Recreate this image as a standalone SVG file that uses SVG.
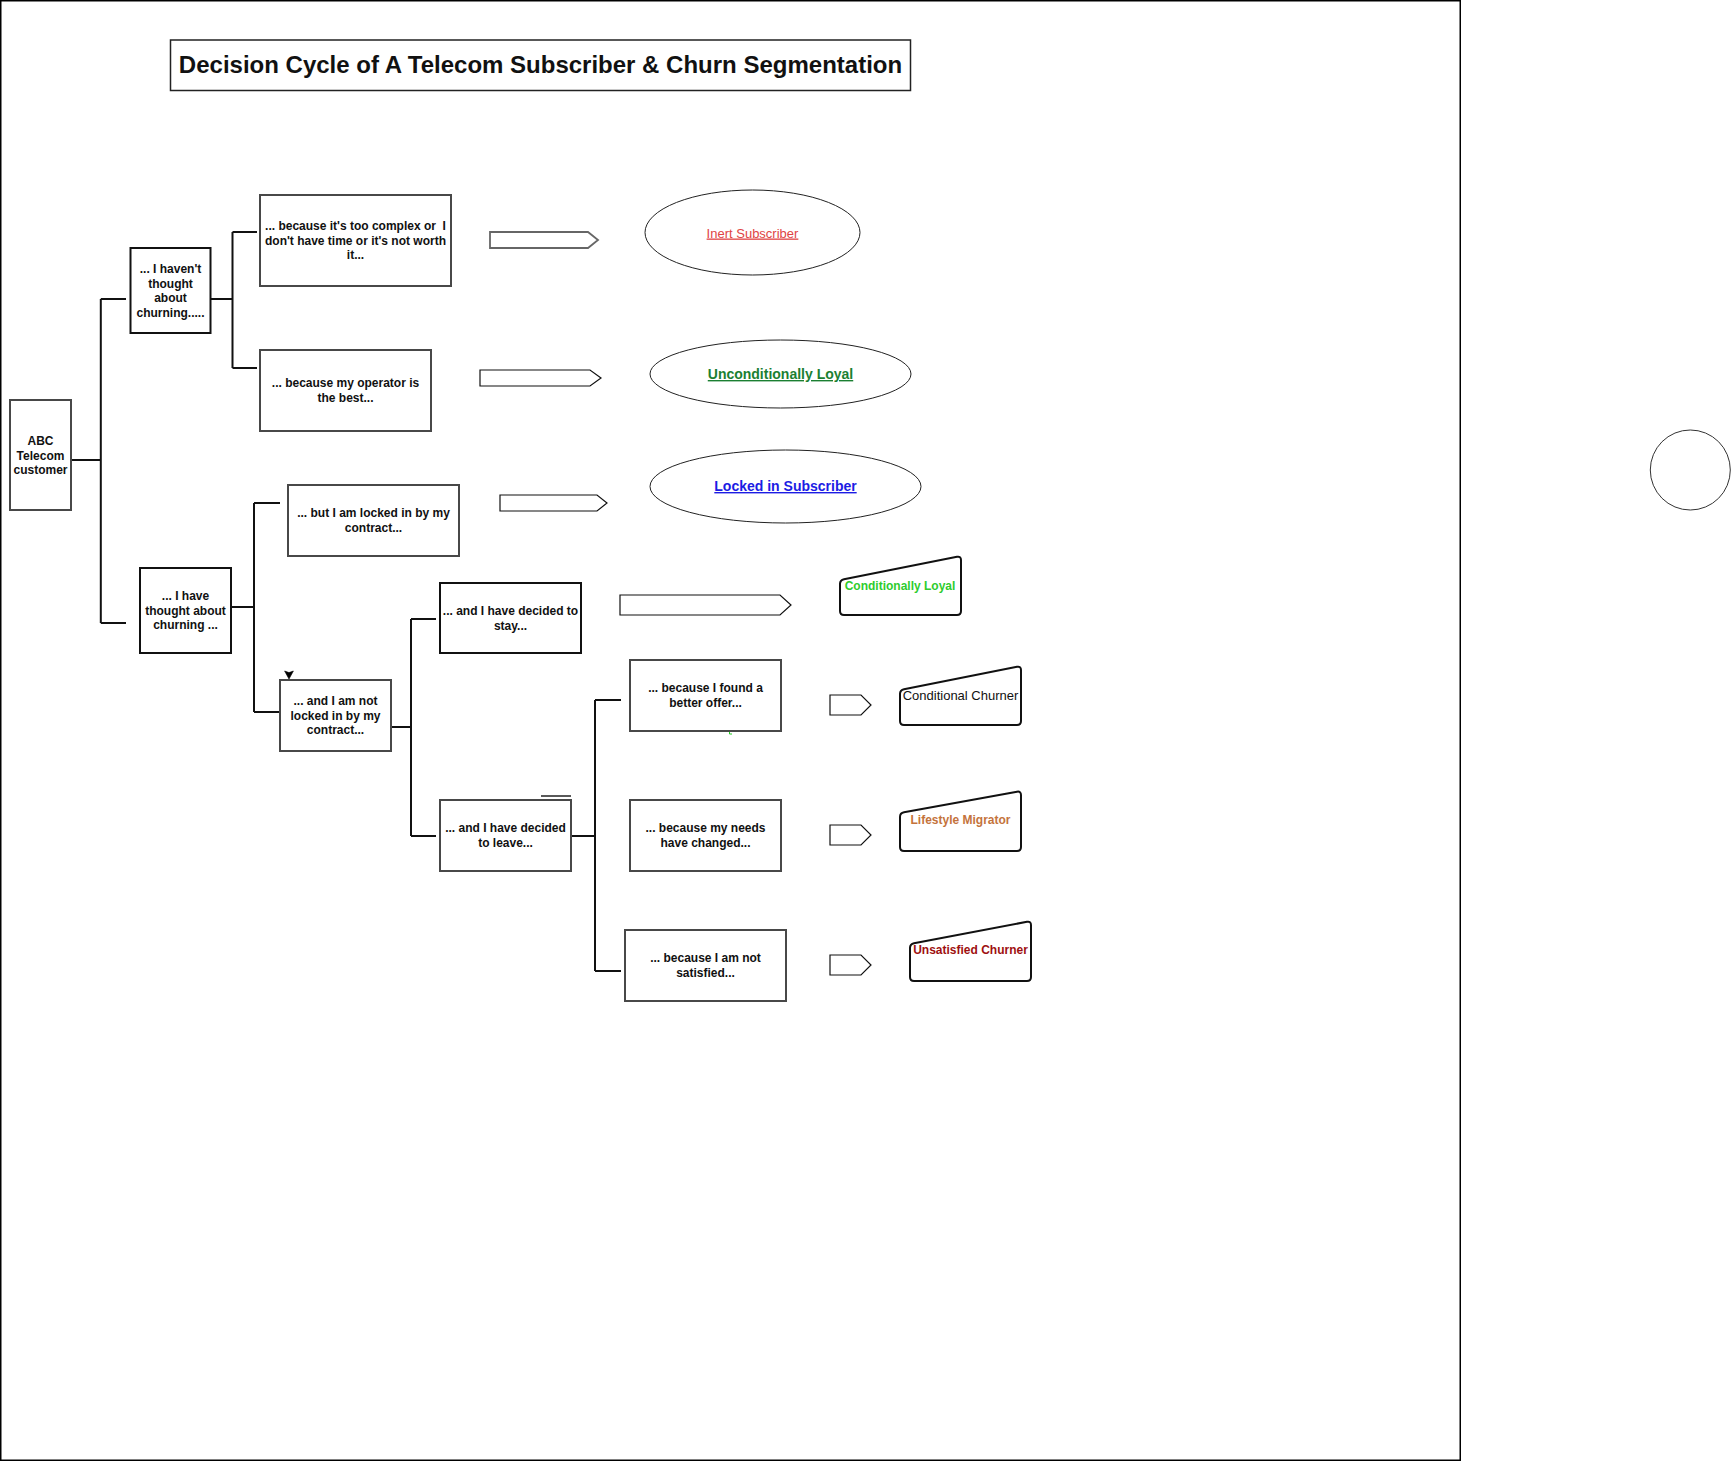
<svg xmlns="http://www.w3.org/2000/svg" width="1731" height="1461" viewBox="0 0 1731 1461">
<style>
text{font-family:"Liberation Sans",Arial,sans-serif;}
.bx{fill:#fff;stroke:#111;stroke-width:2;}
.bg{fill:#fff;stroke:#484848;stroke-width:2;}
.t{font-size:12px;font-weight:bold;fill:#111;text-anchor:middle;}
.c{fill:none;stroke:#111;stroke-width:2;}
.ar{fill:#fff;stroke:#111;stroke-width:1.2;}
.el{fill:#fff;stroke:#222;stroke-width:1;}
.mi{fill:#fff;stroke:#111;stroke-width:2;stroke-linejoin:round;}
.lbl{font-size:12px;font-weight:bold;text-anchor:middle;}
</style>
<rect x="0.75" y="0.75" width="1459.5" height="1459.5" fill="#fff" stroke="#000" stroke-width="1.5"/>

<g id="title">
<rect x="170.5" y="40" width="740" height="50.5" fill="#fff" stroke="#222" stroke-width="1.5"/>
<text x="540.5" y="73" font-size="24" font-weight="bold" text-anchor="middle" fill="#111">Decision Cycle of A Telecom Subscriber &amp; Churn Segmentation</text>
</g>

<g id="connectors">
<path class="c" d="M71 460 H100.8 M100.8 299 V623 M100.8 299 H126 M100.8 623 H126"/>
<path class="c" d="M210.5 299 H232.5 M232.5 232 V368 M232.5 232 H257 M232.5 368 H257"/>
<path class="c" d="M231 607 H254 M254 503 V712 M254 503 H280 M254 712 H280"/>
<path class="c" d="M391 727 H411 M411 619 V836 M411 619 H436 M411 836 H436"/>
<path class="c" d="M571 836 H595 M595 700 V971 M595 700 H621 M595 971 H621"/>
<path d="M541 796 H571" stroke="#222" stroke-width="1.5" fill="none"/>
<path d="M284.6 671 L289 672.6 L293.4 671 L289 679 Z" fill="#000" stroke="#000" stroke-width="0.6" stroke-linejoin="round"/>
<path d="M729.5 731 V734 H732" stroke="#22cc22" stroke-width="1" fill="none"/>
</g>

<g id="abc">
<rect class="bg" x="10" y="400" width="61" height="110"/>
<text class="t" x="40.5" y="445">ABC</text>
<text class="t" x="40.5" y="459.5">Telecom</text>
<text class="t" x="40.5" y="474">customer</text>
</g>

<g id="not-thought">
<rect class="bx" x="130.5" y="248" width="80" height="85"/>
<text class="t" x="170.5" y="273">... I haven't</text>
<text class="t" x="170.5" y="287.5">thought</text>
<text class="t" x="170.5" y="302">about</text>
<text class="t" x="170.5" y="316.5">churning.....</text>
</g>

<g id="too-complex">
<rect class="bg" x="260" y="195" width="191" height="91"/>
<text class="t" x="355.5" y="230">... because it's too complex or&#160; I</text>
<text class="t" x="355.5" y="244.5">don't have time or it's not worth</text>
<text class="t" x="355.5" y="259">it...</text>
</g>

<g id="operator-best">
<rect class="bg" x="260" y="350" width="171" height="81"/>
<text class="t" x="345.5" y="387">... because my operator is</text>
<text class="t" x="345.5" y="402">the best...</text>
</g>

<g id="locked-in">
<rect class="bg" x="288" y="485" width="171" height="71"/>
<text class="t" x="373.5" y="517">... but I am locked in by my</text>
<text class="t" x="373.5" y="532">contract...</text>
</g>

<g id="have-thought">
<rect class="bx" x="140" y="568" width="91" height="85"/>
<text class="t" x="185.5" y="600">... I have</text>
<text class="t" x="185.5" y="614.5">thought about</text>
<text class="t" x="185.5" y="629">churning ...</text>
</g>

<g id="not-locked">
<rect class="bg" x="280" y="680" width="111" height="71"/>
<text class="t" x="335.5" y="705">... and I am not</text>
<text class="t" x="335.5" y="719.5">locked in by my</text>
<text class="t" x="335.5" y="734">contract...</text>
</g>

<g id="decided-stay">
<rect class="bx" x="440" y="583" width="141" height="70"/>
<text class="t" x="510.5" y="615">... and I have decided to</text>
<text class="t" x="510.5" y="630">stay...</text>
</g>

<g id="decided-leave">
<rect class="bg" x="440" y="800" width="131" height="71"/>
<text class="t" x="505.5" y="832">... and I have decided</text>
<text class="t" x="505.5" y="847">to leave...</text>
</g>

<g id="better-offer">
<rect class="bg" x="630" y="660" width="151" height="71"/>
<text class="t" x="705.5" y="692">... because I found a</text>
<text class="t" x="705.5" y="707">better offer...</text>
</g>

<g id="needs-changed">
<rect class="bg" x="630" y="800" width="151" height="71"/>
<text class="t" x="705.5" y="832">... because my needs</text>
<text class="t" x="705.5" y="847">have changed...</text>
</g>

<g id="not-satisfied">
<rect class="bg" x="625" y="930" width="161" height="71"/>
<text class="t" x="705.5" y="962">... because I am not</text>
<text class="t" x="705.5" y="977">satisfied...</text>
</g>

<g id="arrows">
<path d="M490 232 H588 L598 240 L588 248 H490 Z" fill="#fff" stroke="#666" stroke-width="1.8"/>
<path class="ar" d="M480 370 H590 L601 378 L590 386 H480 Z"/>
<path class="ar" d="M500 495 H597 L607 503 L597 511 H500 Z"/>
<path class="ar" d="M620 595 H780 L791 605 L780 615 H620 Z"/>
<path class="ar" d="M830 695 H861 L871 705 L861 715 H830 Z"/>
<path class="ar" d="M830 825 H861 L871 835 L861 845 H830 Z"/>
<path class="ar" d="M830 955 H861 L871 965 L861 975 H830 Z"/>
</g>

<g id="inert">
<ellipse class="el" cx="752.5" cy="232.5" rx="107.5" ry="42.5"/>
<text x="752.5" y="237.5" font-size="13" text-anchor="middle" fill="#e04444" text-decoration="underline">Inert Subscriber</text>
</g>

<g id="uncond-loyal">
<ellipse class="el" cx="780.5" cy="374" rx="130.5" ry="34"/>
<text x="780.5" y="379" font-size="14" font-weight="bold" text-anchor="middle" fill="#1b7f32" text-decoration="underline">Unconditionally Loyal</text>
</g>

<g id="locked-sub">
<ellipse class="el" cx="785.5" cy="486.5" rx="135.5" ry="36.5"/>
<text x="785.5" y="491" font-size="14" font-weight="bold" text-anchor="middle" fill="#1c1ce4" text-decoration="underline">Locked in Subscriber</text>
</g>

<g id="cond-loyal">
<path class="mi" d="M840 584 Q840 580 844 579.2 L957 556.8 Q961 556 961 560 L961 611 Q961 615 957 615 L844 615 Q840 615 840 611 Z"/>
<text class="lbl" x="900" y="589.5" fill="#2ecc2e">Conditionally Loyal</text>
</g>

<g id="cond-churner">
<path class="mi" d="M900 694 Q900 690 904 689.2 L1017 666.8 Q1021 666 1021 670 L1021 721 Q1021 725 1017 725 L904 725 Q900 725 900 721 Z"/>
<text x="960.5" y="699.5" font-size="13" text-anchor="middle" fill="#111">Conditional Churner</text>
</g>

<g id="lifestyle">
<path class="mi" d="M900 817 Q900 813 904 812.3 L1017 791.7 Q1021 791 1021 795 L1021 847 Q1021 851 1017 851 L904 851 Q900 851 900 847 Z"/>
<text class="lbl" x="960.5" y="823.5" fill="#c4733c">Lifestyle Migrator</text>
</g>

<g id="unsatisfied">
<path class="mi" d="M910 948 Q910 944 914 943.2 L1027 921.8 Q1031 921 1031 925 L1031 977 Q1031 981 1027 981 L914 981 Q910 981 910 977 Z"/>
<text class="lbl" x="970.5" y="953.5" fill="#9e1010">Unsatisfied Churner</text>
</g>

<g id="circle">
<circle cx="1690.3" cy="470" r="40" fill="#fff" stroke="#333" stroke-width="1"/>
</g>
</svg>
